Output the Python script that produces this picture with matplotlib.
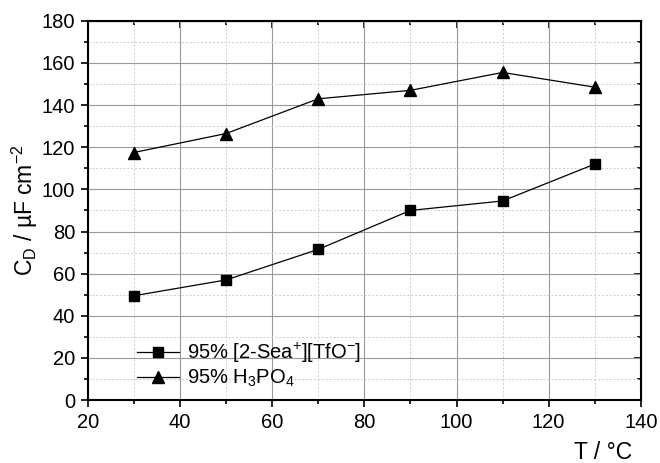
import matplotlib
matplotlib.use("Agg")
import matplotlib.pyplot as plt
from matplotlib.ticker import MultipleLocator

plt.rcParams["font.family"] = ["Liberation Sans", "DejaVu Sans"]
plt.rcParams["mathtext.fontset"] = "custom"
plt.rcParams["mathtext.rm"] = "Liberation Sans"
plt.rcParams["mathtext.it"] = "Liberation Sans"

temps = [30, 50, 70, 90, 110, 130]
sea_tfo = [49.5, 57, 71.5, 90, 94.5, 112]
h3po4 = [117.5, 126.5, 143, 147, 155.5, 148.5]

fig = plt.figure(figsize=(6.6, 4.63), dpi=100)
ax = fig.add_axes([0.133, 0.136, 0.838, 0.819])

ax.plot(temps, sea_tfo, "s-", color="black", markersize=7, linewidth=0.9,
        label="95% [2-Sea$^{+}$][TfO$^{-}$]")
ax.plot(temps, h3po4, "^-", color="black", markersize=8, linewidth=0.9,
        label="95% H$_{3}$PO$_{4}$")

ax.set_xlim(20, 140)
ax.set_ylim(0, 180)
ax.xaxis.set_major_locator(MultipleLocator(20))
ax.xaxis.set_minor_locator(MultipleLocator(10))
ax.yaxis.set_major_locator(MultipleLocator(20))
ax.yaxis.set_minor_locator(MultipleLocator(10))

ax.grid(True, which="major", color="#999999", linewidth=0.8, linestyle="-")
ax.grid(True, which="minor", color="#cccccc", linewidth=0.7, linestyle=(0, (2, 2)))
ax.set_axisbelow(True)

for s in ax.spines.values():
    s.set_linewidth(1.5)

ax.tick_params(which="both", direction="out", labelsize=14.5, width=1.2, pad=4)
ax.tick_params(which="major", length=5)
ax.tick_params(which="minor", length=3)

# mirrored top/right ticks pointing inward
ax_top = ax.secondary_xaxis("top")
ax_top.xaxis.set_major_locator(MultipleLocator(20))
ax_top.xaxis.set_minor_locator(MultipleLocator(10))
ax_top.tick_params(which="both", direction="in", labeltop=False, width=1.2)
ax_top.tick_params(which="major", length=5)
ax_top.tick_params(which="minor", length=3)
ax_right = ax.secondary_yaxis("right")
ax_right.yaxis.set_major_locator(MultipleLocator(20))
ax_right.yaxis.set_minor_locator(MultipleLocator(10))
ax_right.tick_params(which="both", direction="in", labelright=False, width=1.2)
ax_right.tick_params(which="major", length=5)
ax_right.tick_params(which="minor", length=3)

ax.set_xlabel("T / °C", fontsize=16.5, ha="right")
ax.xaxis.set_label_coords(0.985, -0.108)
ax.set_ylabel("C$_{\\mathrm{D}}$ / µF cm$^{-2}$", fontsize=16.5, labelpad=1)

ax.legend(loc="lower left", bbox_to_anchor=(0.056, -0.02), frameon=False,
          fontsize=14.5, handlelength=2.1, handletextpad=0.4, labelspacing=0.15)

fig.savefig("out.png", dpi=100)
